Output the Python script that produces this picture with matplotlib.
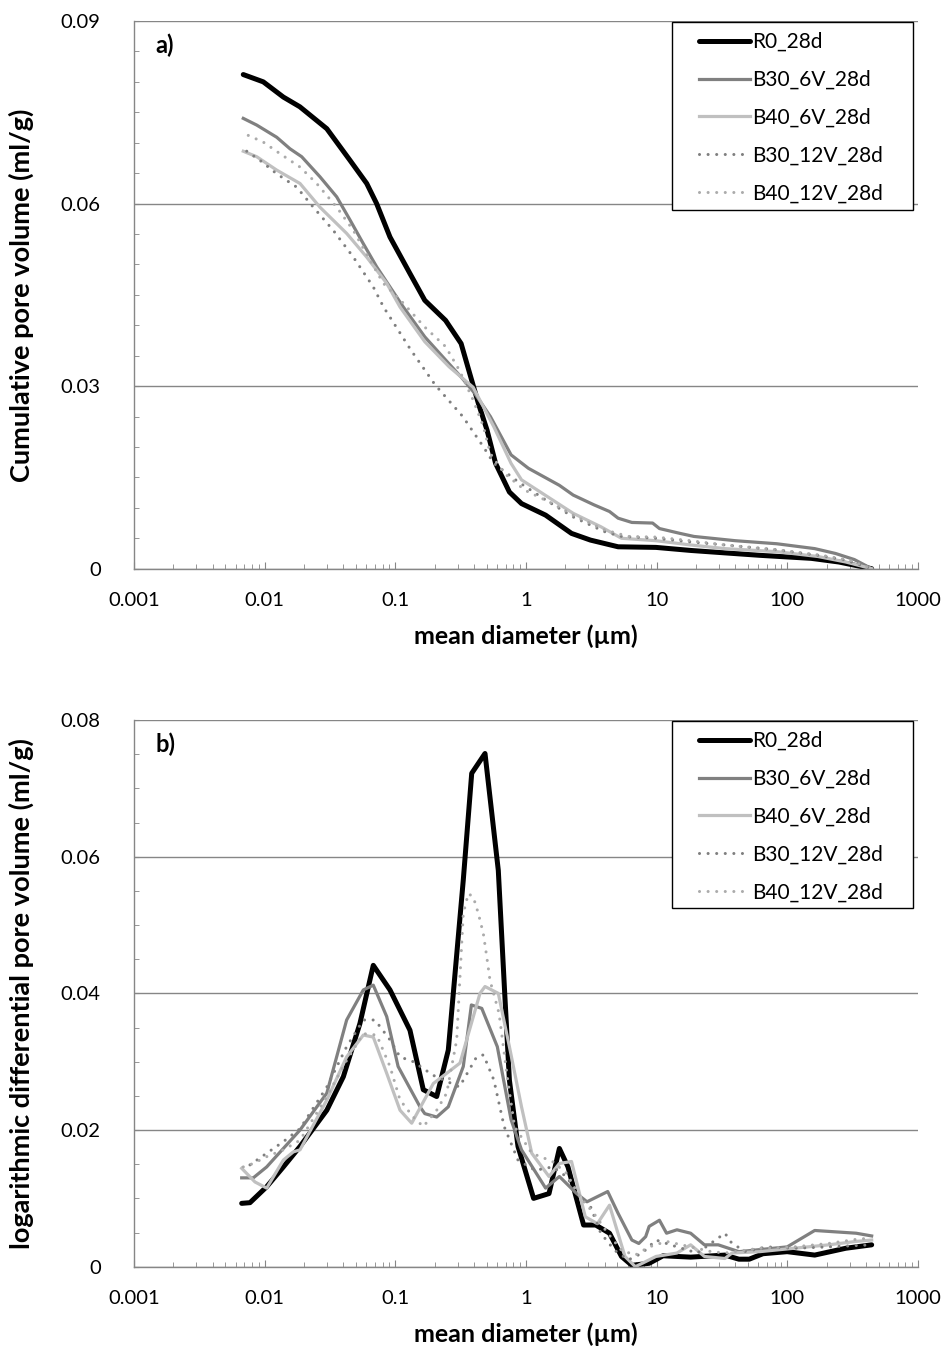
import matplotlib
matplotlib.use('Agg')
import matplotlib.pyplot as plt
from matplotlib.patches import Rectangle
from matplotlib.ticker import FixedLocator, LogLocator, MultipleLocator, FuncFormatter, NullFormatter

plt.rcParams['font.family'] = ['Lato', 'DejaVu Sans']

labels = ['R0_28d', 'B30_6V_28d', 'B40_6V_28d', 'B30_12V_28d', 'B40_12V_28d']

# a) cumulative pore volume (ml/g) vs mean diameter (um)
r0_a_d = [0.00686, 0.00976, 0.0139, 0.0186, 0.0299, 0.0450, 0.0604, 0.0719, 0.0910, 0.1294,
          0.168, 0.2424, 0.3187, 0.3707, 0.4315, 0.5029, 0.5853, 0.7464, 0.924, 1.413,
          2.23, 3.115, 5.07, 9.88, 18.2, 33.3, 61.4, 152.5, 248, 442]
r0_a_v = [0.0812, 0.0800, 0.0775, 0.0759, 0.0723, 0.0671, 0.0633, 0.0600, 0.0545, 0.0485,
          0.0441, 0.0408, 0.0370, 0.0321, 0.0272, 0.0228, 0.0173, 0.0126, 0.0107, 0.0088,
          0.0058, 0.0047, 0.0036, 0.0035, 0.0030, 0.0026, 0.0022, 0.0017, 0.0011, 0.0]

b30_6v_a_d = [0.00686, 0.00869, 0.01236, 0.01563, 0.0192, 0.0265, 0.0356, 0.0450, 0.0569, 0.0720,
              0.0910, 0.1151, 0.168, 0.2424, 0.3187, 0.4055, 0.534, 0.769, 1.043, 1.801,
              2.297, 3.308, 4.355, 5.07, 6.46, 9.31, 10.5, 15.1, 19.3, 40.0,
              83.0, 162, 234, 326, 442]
b30_6v_a_v = [0.0740, 0.0729, 0.0709, 0.0690, 0.0677, 0.0644, 0.0611, 0.0573, 0.0534, 0.0496,
              0.0463, 0.0430, 0.0381, 0.0343, 0.0315, 0.0288, 0.0250, 0.0187, 0.0165, 0.0137,
              0.0121, 0.0105, 0.0094, 0.0083, 0.0076, 0.0075, 0.0066, 0.0058, 0.0053, 0.0046,
              0.0041, 0.0033, 0.0025, 0.0015, 0.0]

b40_6v_a_d = [0.00686, 0.00869, 0.01236, 0.01864, 0.0265, 0.0424, 0.0604, 0.0859, 0.1086, 0.168,
              0.2575, 0.3944, 0.568, 0.769, 0.924, 1.330, 2.297, 3.736, 5.38, 9.88,
              18.2, 33.3, 83.0, 172, 280, 442]
b40_6v_a_v = [0.0686, 0.0677, 0.0655, 0.0633, 0.0594, 0.0551, 0.0512, 0.0469, 0.0430, 0.0373,
              0.0332, 0.0298, 0.0233, 0.0173, 0.0146, 0.0124, 0.0091, 0.0069, 0.0050, 0.0046,
              0.0039, 0.0033, 0.0028, 0.0020, 0.0011, 0.0]

b30_12v_a_d = [0.00729, 0.00921, 0.01236, 0.01758, 0.02357, 0.0335, 0.0477, 0.0678, 0.0812, 0.1318,
               0.2018, 0.3284, 0.4728, 0.568, 0.8685, 1.413, 2.297, 3.973, 5.38, 9.88,
               18.2, 33.3, 83.0, 172, 280, 442]
b30_12v_a_v = [0.0686, 0.0671, 0.0649, 0.0627, 0.0594, 0.0556, 0.0512, 0.0463, 0.0430, 0.0359,
               0.0302, 0.0250, 0.0200, 0.0173, 0.0143, 0.0113, 0.0085, 0.0061, 0.0053, 0.0050,
               0.0044, 0.0039, 0.0031, 0.0022, 0.0014, 0.0]

b40_12v_a_d = [0.00749, 0.00976, 0.0131, 0.01864, 0.0250, 0.0356, 0.0477, 0.0640, 0.0809, 0.1099,
               0.1222, 0.168, 0.2424, 0.3093, 0.3944, 0.4728, 0.534, 0.6808, 0.9806, 1.595,
               2.443, 3.973, 6.08, 9.88, 18.2, 33.3, 83.0, 183, 298, 442]
b40_12v_a_v = [0.0712, 0.0701, 0.0682, 0.0660, 0.0633, 0.0594, 0.0556, 0.0507, 0.0469, 0.0441,
               0.0430, 0.0397, 0.0365, 0.0326, 0.0277, 0.0233, 0.0189, 0.0157, 0.0129, 0.0107,
               0.0085, 0.0064, 0.0053, 0.0052, 0.0046, 0.0039, 0.0031, 0.0022, 0.0014, 0.0]

# b) logarithmic differential pore volume (ml/g)
r0_b_d = [0.00667, 0.00772, 0.01036, 0.0139, 0.01864, 0.0299, 0.0400, 0.0536, 0.0678, 0.0910,
          0.1294, 0.1637, 0.2073, 0.2543, 0.3312, 0.3842, 0.4856, 0.6138, 0.685, 0.7464,
          0.8685, 1.143, 1.500, 1.801, 2.096, 2.759, 3.414, 4.355, 5.38, 6.46,
          8.76, 11.2, 18.2, 33.3, 42.6, 51.1, 65.1, 99.7, 162, 280, 442]
r0_b_v = [0.00927, 0.00937, 0.0117, 0.0146, 0.0176, 0.0229, 0.0278, 0.0356, 0.0441, 0.0405,
          0.0346, 0.0259, 0.0249, 0.0317, 0.0566, 0.0722, 0.0751, 0.0580, 0.0405, 0.0273,
          0.0176, 0.0100, 0.0107, 0.0173, 0.0146, 0.0061, 0.0061, 0.0049, 0.0015, 0.0002,
          0.0005, 0.0016, 0.0014, 0.0017, 0.0011, 0.0011, 0.0019, 0.0022, 0.0017, 0.0027, 0.0032]

b30_6v_b_d = [0.00667, 0.00818, 0.01036, 0.01864, 0.0299, 0.0424, 0.0569, 0.0678, 0.0859, 0.105,
              0.1544, 0.168, 0.2073, 0.2543, 0.3312, 0.382, 0.4587, 0.6031, 0.769, 0.924,
              1.413, 1.801, 2.443, 2.930, 4.220, 5.07, 6.46, 7.30, 8.24, 8.76,
              10.5, 11.9, 14.3, 18.2, 23.2, 29.6, 42.6, 99.7, 162, 336, 442]
b30_6v_b_v = [0.0130, 0.0130, 0.0146, 0.0200, 0.0254, 0.0361, 0.0405, 0.0412, 0.0366, 0.0293,
              0.0234, 0.0224, 0.0219, 0.0234, 0.0293, 0.0383, 0.0378, 0.0322, 0.0215, 0.0171,
              0.0115, 0.0132, 0.0107, 0.0095, 0.0110, 0.0078, 0.0039, 0.0034, 0.0044, 0.0059,
              0.0068, 0.0049, 0.0054, 0.0049, 0.0032, 0.0032, 0.0022, 0.0029, 0.0053, 0.0049, 0.0045]

b40_6v_b_d = [0.00667, 0.00843, 0.01036, 0.0139, 0.01656, 0.01864, 0.0299, 0.0424, 0.0569, 0.0678,
              0.0859, 0.1086, 0.1334, 0.1952, 0.3126, 0.4445, 0.4856, 0.6138, 0.7464, 0.924,
              1.107, 1.500, 1.801, 2.23, 2.843, 3.518, 4.355, 5.72, 6.87, 9.88,
              14.3, 18.2, 23.2, 33.3, 37.7, 61.4, 112.6, 207, 336, 442]
b40_6v_b_v = [0.0144, 0.0124, 0.0115, 0.0156, 0.0168, 0.0171, 0.0244, 0.0307, 0.0339, 0.0336,
              0.0283, 0.0229, 0.0210, 0.0268, 0.0298, 0.0400, 0.0410, 0.0400, 0.0322, 0.0234,
              0.0166, 0.0132, 0.0151, 0.0154, 0.0073, 0.0063, 0.0090, 0.0015, 0.0, 0.0015,
              0.0020, 0.0032, 0.0015, 0.0012, 0.0020, 0.0022, 0.0027, 0.0032, 0.0037, 0.0039]

b30_12v_b_d = [0.00772, 0.01036, 0.0139, 0.01864, 0.0299, 0.0424, 0.0569, 0.0699, 0.0910, 0.1086,
               0.1372, 0.1952, 0.3093, 0.4188, 0.4728, 0.568, 0.6808, 0.8685, 1.178, 1.595,
               2.034, 2.594, 3.115, 3.736, 4.764, 6.08, 7.75, 9.88, 14.3, 20.5,
               29.6, 33.3, 37.7, 48.1, 69.3, 112.6, 207, 442]
b30_12v_b_v = [0.0149, 0.0166, 0.0183, 0.0202, 0.0263, 0.0322, 0.0361, 0.0361, 0.0332, 0.0307,
               0.0300, 0.0280, 0.0263, 0.0307, 0.0310, 0.0273, 0.0205, 0.0156, 0.0141, 0.0146,
               0.0132, 0.0102, 0.0088, 0.0049, 0.0024, 0.0010, 0.0020, 0.0039, 0.0029, 0.0020,
               0.0042, 0.0049, 0.0034, 0.0022, 0.0029, 0.0027, 0.0029, 0.0032]

b40_12v_b_d = [0.00686, 0.00818, 0.01036, 0.0139, 0.01864, 0.0299, 0.0424, 0.0569, 0.0720, 0.0910,
               0.1086, 0.1372, 0.1637, 0.2073, 0.2472, 0.2949, 0.3312, 0.3618, 0.395, 0.4315,
               0.471, 0.5004, 0.5302, 0.6214, 0.7244, 0.818, 1.107, 1.595, 2.034, 2.594,
               3.308, 4.220, 5.38, 6.87, 8.76, 11.9, 18.2, 26.2, 33.3, 61.4,
               112.6, 207, 336, 442]
b40_12v_b_v = [0.0146, 0.0151, 0.0161, 0.0171, 0.0185, 0.0249, 0.0302, 0.0341, 0.0339, 0.0293,
               0.0244, 0.0219, 0.0205, 0.0229, 0.0254, 0.0332, 0.0517, 0.0546, 0.0541, 0.0517,
               0.0488, 0.0454, 0.0419, 0.0371, 0.0273, 0.0205, 0.0166, 0.0154, 0.0137, 0.0102,
               0.0078, 0.0049, 0.0024, 0.0017, 0.0029, 0.0037, 0.0029, 0.0022, 0.0020, 0.0027,
               0.0029, 0.0034, 0.0040, 0.0042]

dotted = (0, (0.01, 2.8))
styles = [
    dict(color='#000000', lw=3.6, ls='-', solid_capstyle='round', solid_joinstyle='round'),
    dict(color='#808080', lw=2.3, ls='-', solid_joinstyle='round'),
    dict(color='#c0c0c0', lw=2.3, ls='-', solid_joinstyle='round'),
    dict(color='#7f7f7f', lw=2.2, ls=dotted, dash_capstyle='round'),
    dict(color='#ababab', lw=2.2, ls=dotted, dash_capstyle='round'),
]

panels = [
    dict(series=[(r0_a_d, r0_a_v), (b30_6v_a_d, b30_6v_a_v), (b40_6v_a_d, b40_6v_a_v),
                 (b30_12v_a_d, b30_12v_a_v), (b40_12v_a_d, b40_12v_a_v)],
         ymax=0.09, ymajor=0.03, ylabel='Cumulative pore volume (ml/g)', tag='a)',
         rect=[134 / 945, 1 - 568.7 / 1351, 784 / 945, 547.7 / 1351]),
    dict(series=[(r0_b_d, r0_b_v), (b30_6v_b_d, b30_6v_b_v), (b40_6v_b_d, b40_6v_b_v),
                 (b30_12v_b_d, b30_12v_b_v), (b40_12v_b_d, b40_12v_b_v)],
         ymax=0.08, ymajor=0.02, ylabel='logarithmic differential pore volume (ml/g)', tag='b)',
         rect=[134 / 945, 1 - 1266.7 / 1351, 784 / 945, 546.7 / 1351]),
]

fig = plt.figure(figsize=(9.45, 13.51), dpi=100)
grid_c = '#868686'

for p in panels:
  ax = fig.add_axes(p['rect'])
  for (d, v), lab, st in zip(p['series'], labels, styles):
    ax.plot(d, v, label=lab, **st)

  ax.set_xscale('log')
  ax.set_xlim(0.001, 1000)
  ax.set_ylim(0, p['ymax'])
  ax.xaxis.set_major_locator(FixedLocator([0.001, 0.01, 0.1, 1, 10, 100, 1000]))
  ax.xaxis.set_major_formatter(FuncFormatter(lambda v, pos: f'{v:g}'))
  ax.xaxis.set_minor_locator(LogLocator(base=10, subs=range(2, 10), numticks=20))
  ax.xaxis.set_minor_formatter(NullFormatter())
  ax.yaxis.set_major_locator(MultipleLocator(p['ymajor']))
  ax.yaxis.set_minor_locator(MultipleLocator(0.005))
  ax.yaxis.set_major_formatter(FuncFormatter(lambda v, pos: f'{round(v, 3):g}'))

  ax.grid(True, axis='y', which='major', color=grid_c, lw=1.0)
  ax.set_axisbelow(True)
  for s in ['top', 'right']:
    ax.spines[s].set_visible(False)
  for s in ['left', 'bottom']:
    ax.spines[s].set_color(grid_c)
    ax.spines[s].set_linewidth(1.0)

  ax.tick_params(axis='x', which='major', direction='in', length=5, color=grid_c,
                 labelsize=14.5, pad=17)
  ax.tick_params(axis='x', which='minor', direction='in', length=3.5, color=grid_c)
  ax.tick_params(axis='y', which='major', direction='in', length=3.5, color=grid_c,
                 labelsize=14.5, pad=24)
  ax.tick_params(axis='y', which='minor', direction='in', length=3.5, color=grid_c)

  ax.set_xlabel('mean diameter (\u00b5m)', fontsize=18, fontweight='bold', labelpad=11)
  ax.set_ylabel(p['ylabel'], fontsize=19.5, fontweight='bold', labelpad=19)

  ax.text(0.027, 0.955, p['tag'], transform=ax.transAxes, fontsize=17,
          fontweight='bold', va='center', ha='left')

  # legend box as in the original (wide padding around entries)
  ax.add_patch(Rectangle((0.6862, 0.6555), 0.3074, 0.3430, transform=ax.transAxes,
                         facecolor='white', edgecolor='black', lw=1.0, zorder=4.9))
  leg = ax.legend(loc='upper left', bbox_to_anchor=(0.7207, 0.9800), borderaxespad=0,
                  borderpad=0, fontsize=15, frameon=False, handlelength=2.45,
                  handletextpad=0.1, labelspacing=0.86)

fig.savefig('out.png', dpi=100)
